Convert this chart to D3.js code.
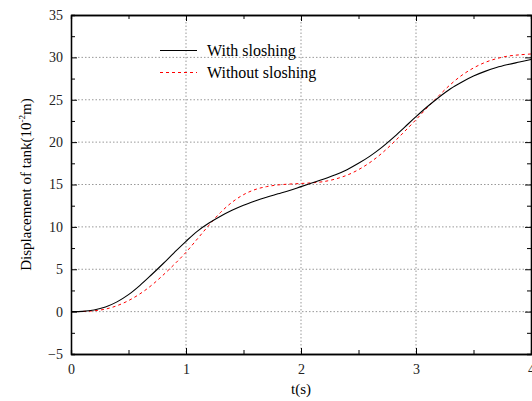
<!DOCTYPE html>
<html><head><meta charset="utf-8">
<script src="https://cdn.jsdelivr.net/npm/d3@7"></script>
<style>body{margin:0;background:#fff}svg{display:block}</style>
</head><body><svg id="c" width="532" height="401"></svg>
<script>
const tValues = [0,0.1,0.2,0.3,0.4,0.5,0.6,0.7,0.8,0.9,1.0,1.1,1.2,1.3,1.4,1.5,1.6,1.7,1.8,1.9,2.0,2.1,2.2,2.3,2.4,2.5,2.6,2.7,2.8,2.9,3.0,3.1,3.2,3.3,3.4,3.5,3.6,3.7,3.8,3.9,4.0];
const withSloshing = [0,0.03,0.2,0.55,1.15,2.0,3.1,4.35,5.65,7.0,8.3,9.5,10.45,11.25,11.95,12.55,13.05,13.5,13.9,14.3,14.75,15.2,15.65,16.15,16.75,17.5,18.35,19.35,20.5,21.75,23.0,24.2,25.3,26.3,27.1,27.8,28.35,28.8,29.15,29.45,29.75];
const withoutSloshing = [0,0.02,0.1,0.3,0.7,1.3,2.1,3.1,4.3,5.6,7.0,8.6,10.2,11.7,12.9,13.8,14.4,14.75,14.95,15.05,15.12,15.2,15.35,15.65,16.1,16.75,17.6,18.65,19.9,21.25,22.65,24.1,25.5,26.8,27.9,28.75,29.4,29.85,30.15,30.3,30.4];
const xTicks = [0,1,2,3,4];
const yTicks = [-5,0,5,10,15,20,25,30,35];
const seriesNames = ["With sloshing","Without sloshing"];

const svg = d3.select("#c");
const L=71,R=531,T=15,B=354;
const x = d3.scaleLinear().domain([0,4]).range([L,R]);
const y = d3.scaleLinear().domain([-5,35]).range([B,T]);
const serif = "'Liberation Serif','Times New Roman',serif";

// grid
const g = svg.append("g");
g.selectAll(".gx").data(xTicks.slice(1,-1)).enter().append("line")
 .attr("x1",d=>x(d)).attr("x2",d=>x(d)).attr("y1",T).attr("y2",B)
 .attr("stroke","#999").attr("stroke-width",1).attr("stroke-dasharray","1.5,2");
g.selectAll(".gy").data(yTicks.slice(1,-1)).enter().append("line")
 .attr("y1",d=>y(d)).attr("y2",d=>y(d)).attr("x1",L).attr("x2",R)
 .attr("stroke","#999").attr("stroke-width",1).attr("stroke-dasharray","1.5,2");

// curves
const line = (vals)=>d3.line().x((d,i)=>x(tValues[i])).y(d=>y(d)).curve(d3.curveCatmullRom.alpha(0.5))(vals);
svg.append("path").attr("d",line(withoutSloshing)).attr("fill","none").attr("stroke","#ff0000").attr("stroke-width",1).attr("stroke-dasharray","3,3");
svg.append("path").attr("d",line(withSloshing)).attr("fill","none").attr("stroke","#000").attr("stroke-width",1.1);

// axes
const minorX = d3.range(0,4.01,0.5), minorY = d3.range(-5,35.01,2.5);
const bottom = d3.axisBottom(x).tickValues(xTicks).tickSizeInner(-6).tickSizeOuter(0).tickPadding(10).tickFormat(d3.format("d"));
const left = d3.axisLeft(y).tickValues(yTicks).tickSizeInner(-6).tickSizeOuter(0).tickPadding(8).tickFormat(d=>d<0?"\u2212"+Math.abs(d):d);
svg.append("g").attr("transform",`translate(0,${B})`).call(bottom);
svg.append("g").attr("transform",`translate(${L},0)`).call(left);
svg.append("g").attr("transform",`translate(0,${T})`).call(d3.axisTop(x).tickValues(xTicks).tickSizeInner(-6).tickSizeOuter(0).tickFormat(""));
svg.append("g").attr("transform",`translate(${R},0)`).call(d3.axisRight(y).tickValues(yTicks).tickSizeInner(-6).tickSizeOuter(0).tickFormat(""));
svg.append("g").attr("transform",`translate(0,${B})`).call(d3.axisBottom(x).tickValues(minorX.filter(v=>v%1)).tickSize(-4).tickFormat(""));
svg.append("g").attr("transform",`translate(0,${T})`).call(d3.axisTop(x).tickValues(minorX.filter(v=>v%1)).tickSize(-4).tickFormat(""));
svg.append("g").attr("transform",`translate(${L},0)`).call(d3.axisLeft(y).tickValues(minorY.filter(v=>v%5)).tickSize(-4).tickFormat(""));
svg.append("g").attr("transform",`translate(${R},0)`).call(d3.axisRight(y).tickValues(minorY.filter(v=>v%5)).tickSize(-4).tickFormat(""));
svg.selectAll(".domain").attr("stroke","#000").attr("stroke-width",1.3);
svg.selectAll(".tick line").attr("stroke","#000");
svg.selectAll(".tick text").attr("font-family",serif).attr("font-size",14).attr("fill","#222");

// labels
svg.append("text").attr("x",(L+R)/2).attr("y",394).attr("text-anchor","middle")
 .attr("font-family",serif).attr("font-size",15).text("t(s)");
const yl = svg.append("text").attr("transform",`translate(31,${(T+B)/2}) rotate(-90)`).attr("text-anchor","middle")
 .attr("font-family",serif).attr("font-size",15);
yl.append("tspan").text("Displacement of tank(10");
yl.append("tspan").attr("font-size",9).attr("dy",-6).text("-2");
yl.append("tspan").attr("dy",6).text("m)");

// legend
const leg = svg.append("g");
const ly = [50.5,72.5];
leg.append("line").attr("x1",160).attr("x2",197).attr("y1",ly[0]).attr("y2",ly[0]).attr("stroke","#000").attr("stroke-width",1.1);
leg.append("line").attr("x1",160).attr("x2",197).attr("y1",ly[1]).attr("y2",ly[1]).attr("stroke","#ff0000").attr("stroke-dasharray","3,3");
seriesNames.forEach((n,i)=>leg.append("text").attr("x",207).attr("y",ly[i]+5.5).attr("font-family",serif).attr("font-size",16).text(n));
</script></body></html>
